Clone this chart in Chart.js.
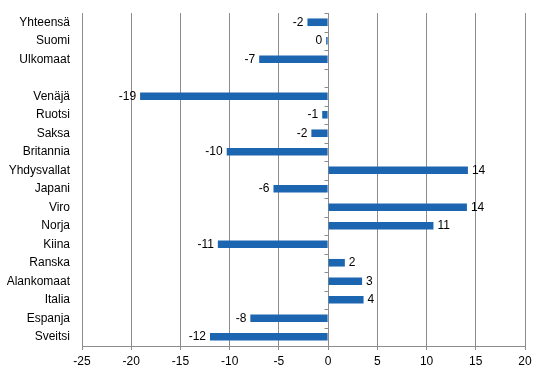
<!DOCTYPE html>
<html>
<head>
<meta charset="utf-8">
<script src="https://cdn.jsdelivr.net/npm/chart.js@4"></script>
<style>
  html, body { margin: 0; padding: 0; background: #fff; }
  #wrap { width: 546px; height: 376px; }
</style>
</head>
<body>
<div id="wrap"><canvas id="chartMaat" width="546" height="376"></canvas></div>
<script>
const maat = ['Yhteensä', 'Suomi', 'Ulkomaat', '', 'Venäjä', 'Ruotsi', 'Saksa', 'Britannia', 'Yhdysvallat',
    'Japani', 'Viro', 'Norja', 'Kiina', 'Ranska', 'Alankomaat', 'Italia', 'Espanja', 'Sveitsi'];
const muutos = [-2.1, -0.2, -7.0, null, -19.1, -0.6, -1.7, -10.3, 14.2,
    -5.55, 14.1, 10.7, -11.2, 1.7, 3.45, 3.6, -7.9, -12.0];
const xMin = -25;
const xMax = 20;
const xStep = 5;

const fontti = { family: 'Liberation Sans, Arial, sans-serif', size: 12 };
const harmaa = '#8c8c8c';

// arvot palkkien päihin ja pienet jakoviivat nolla-akselille
const arvotPlugin = {
    id: 'arvot',
    afterDatasetsDraw(chart) {
        const ctx = chart.ctx;
        const x = chart.scales.x;
        const area = chart.chartArea;
        const x0 = Math.round(x.getPixelForValue(0)) + 0.5;
        const h = (area.bottom - area.top) / maat.length;

        ctx.save();
        ctx.strokeStyle = harmaa;
        ctx.lineWidth = 1;
        ctx.beginPath();
        for (let i = 0; i <= maat.length; i++) {
            const y = Math.round(area.top + i * h) + 0.5;
            ctx.moveTo(x0 - 4, y);
            ctx.lineTo(x0, y);
        }
        ctx.stroke();

        ctx.font = fontti.size + 'px ' + fontti.family;
        ctx.fillStyle = '#000';
        ctx.textBaseline = 'middle';
        chart.getDatasetMeta(0).data.forEach((el, i) => {
            const v = muutos[i];
            if (v === null) return;
            const teksti = String(Math.round(v) === 0 ? 0 : Math.round(v));
            if (v < 0) {
                ctx.textAlign = 'right';
                ctx.fillText(teksti, el.x - 4, el.y);
            } else {
                ctx.textAlign = 'left';
                ctx.fillText(teksti, el.x + 4, el.y);
            }
        });
        ctx.restore();
    }
};

new Chart(document.getElementById('chartMaat'), {
    type: 'bar',
    data: {
        labels: maat,
        datasets: [{
            data: muutos,
            backgroundColor: '#1c65b0',
            borderWidth: 0,
            barPercentage: 0.41,
            categoryPercentage: 1
        }]
    },
    options: {
        indexAxis: 'y',
        responsive: false,
        animation: false,
        layout: { padding: { left: 0, right: 21, top: 13, bottom: 0 } },
        plugins: {
            legend: { display: false },
            tooltip: { enabled: false }
        },
        scales: {
            x: {
                min: xMin,
                max: xMax,
                ticks: { stepSize: xStep, color: '#000', font: fontti, padding: 4, maxRotation: 0 },
                grid: { color: harmaa, lineWidth: 1, tickLength: 4, tickColor: harmaa },
                border: { display: true, color: harmaa },
                afterFit(scale) { scale.height = 30; }
            },
            y: {
                ticks: { color: '#000', font: fontti, padding: 4, autoSkip: false },
                grid: { display: false },
                border: { display: false },
                afterFit(scale) { scale.width = 82; }
            }
        }
    },
    plugins: [arvotPlugin]
});
</script>
</body>
</html>
